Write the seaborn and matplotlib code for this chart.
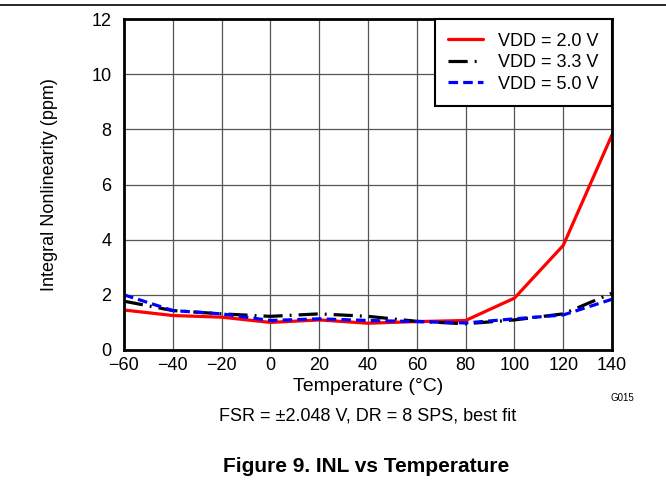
import matplotlib
matplotlib.use("Agg")
import matplotlib.pyplot as plt
import seaborn as sns
import pandas as pd

temps = [-60, -40, -20, 0, 20, 40, 60, 80, 100, 120, 140]
vdd_20 = [1.45, 1.25, 1.19, 1.0, 1.09, 0.97, 1.03, 1.07, 1.88, 3.79, 7.8]
vdd_33 = [1.77, 1.43, 1.31, 1.22, 1.31, 1.22, 1.04, 0.95, 1.09, 1.31, 2.06]
vdd_50 = [2.0, 1.43, 1.31, 1.07, 1.13, 1.07, 1.03, 0.98, 1.13, 1.27, 1.84]
series_names = ["VDD = 2.0 V", "VDD = 3.3 V", "VDD = 5.0 V"]

sns.set_theme(style="white")
plt.rcParams['font.family'] = ['Liberation Sans', 'DejaVu Sans']
plt.rcParams['text.color'] = 'black'
plt.rcParams['axes.labelcolor'] = 'black'

df = pd.DataFrame({
    "Temperature": temps * 3,
    "INL": vdd_20 + vdd_33 + vdd_50,
    "Series": [series_names[0]] * len(temps) + [series_names[1]] * len(temps) + [series_names[2]] * len(temps),
})

fig = plt.figure(figsize=(6.66, 4.8), dpi=100)
ax = fig.add_axes([124 / 666, 1 - 350 / 480, (612 - 124) / 666, (350 - 19) / 480])

palette = {series_names[0]: "#ff0000", series_names[1]: "#000000", series_names[2]: "#0000ff"}
dashes = {series_names[0]: "", series_names[1]: (6, 2.2, 0.6, 2.2), series_names[2]: (3, 1.6)}
sns.lineplot(data=df, x="Temperature", y="INL", hue="Series", style="Series",
             palette=palette, dashes=dashes, linewidth=2.3, ax=ax, legend=True)

ax.set_xlim(-60, 140)
ax.set_ylim(0, 12)
ax.set_xticks(range(-60, 141, 20))
ax.set_yticks(range(0, 13, 2))
ax.set_xticklabels([("\u2212" + str(-t)) if t < 0 else str(t) for t in range(-60, 141, 20)])
ax.grid(True, color="#555555", linewidth=0.9)
ax.set_axisbelow(True)
for s in ax.spines.values():
    s.set_color("black")
    s.set_linewidth(2)
ax.tick_params(axis="both", labelsize=13, colors="black", length=0)
ax.tick_params(axis="y", pad=9)
ax.tick_params(axis="x", pad=5)
ax.set_xlabel("Temperature (\u00b0C)", fontsize=14, color="black", labelpad=3)
ax.set_ylabel("Integral Nonlinearity (ppm)", fontsize=13, color="black", labelpad=24)

leg = ax.legend(loc="upper right", fontsize=13, frameon=True, fancybox=False,
                borderaxespad=0, handlelength=1.9, labelspacing=0.25, borderpad=0.75,
                handletextpad=0.85)
leg.get_frame().set_edgecolor("black")
leg.get_frame().set_linewidth(1.5)
leg.get_frame().set_alpha(1)

fig.text(622 / 666, 1 - 398 / 480, "G015", fontsize=7, ha="center", va="center")
fig.text(368 / 666, 1 - 416 / 480, "FSR = \u00b12.048 V, DR = 8 SPS, best fit", fontsize=13, ha="center", va="center")
fig.text(366 / 666, 1 - 467 / 480, "Figure 9. INL vs Temperature", fontsize=15, fontweight="bold", ha="center", va="center")
fig.add_artist(plt.Line2D([0, 1], [1 - 5 / 480, 1 - 5 / 480], color="black", linewidth=1.2, transform=fig.transFigure))

fig.savefig("out.png", dpi=100)
